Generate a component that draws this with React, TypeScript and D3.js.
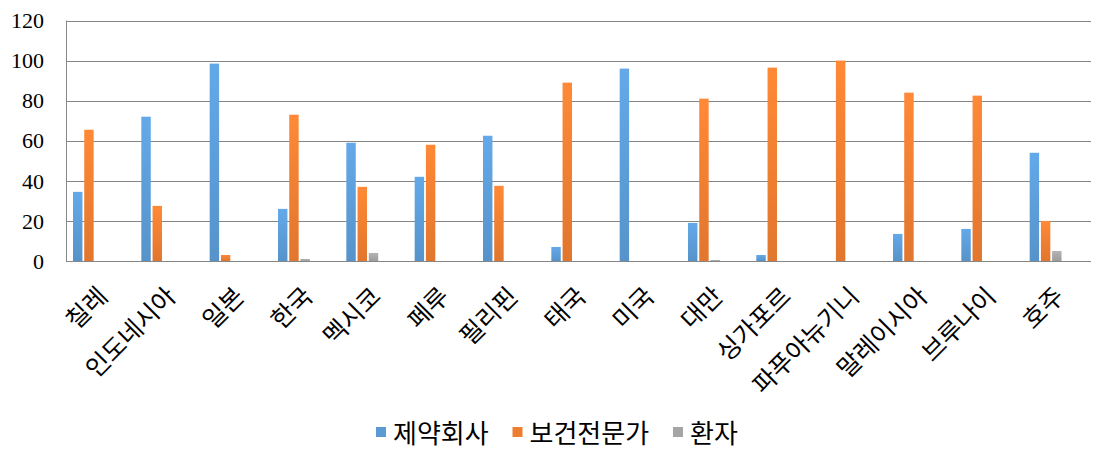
import React from "react";
import * as d3 from "d3";

const categories = ["칠레", "인도네시아", "일본", "한국", "멕시코", "페루", "필리핀", "태국", "미국", "대만", "싱가포르", "파푸아뉴기니", "말레이시아", "브루나이", "호주"];
const seriesNames = ["제약회사", "보건전문가", "환자"];
const pharma = [34.5, 72, 98.5, 26, 59, 42, 62.5, 7, 96, 19, 3, 0, 13.5, 16, 54];
const health = [65.5, 27.5, 3, 73, 37, 58, 37.5, 89, 0, 81, 96.5, 100, 84, 82.5, 20];
const patient = [0, 0, 0, 1, 4, 0, 0, 0, 0, 0.5, 0, 0, 0, 0, 5];
const yTicks = [0, 20, 40, 60, 80, 100, 120];
const colors = ["#5B9BD5", "#ED7D31", "#A5A5A5"];

const W = 1105, H = 458;
const left = 66, right = 1091, top = 20.5, bottom = 261;

export default function App() {
  const x0 = d3.scaleBand<string>().domain(categories).range([left, right]).padding(0);
  const slots = [...seriesNames, "_a", "_b"];
  const bw = x0.bandwidth();
  const x1 = d3.scaleBand<string>().domain(slots).range([7, bw - 7]).paddingInner(0.16).paddingOuter(0);
  const y = d3.scaleLinear().domain([0, 120]).range([bottom, top]);
  const values = [pharma, health, patient];

  const legendItems = [
    { x: 376, name: seriesNames[0] },
    { x: 512.5, name: seriesNames[1] },
    { x: 673, name: seriesNames[2] },
  ];

  return (
    <div style={{ position: "absolute", left: 0, top: 0 }}>
      <svg width={W} height={H} style={{ display: "block", background: "#fff" }}>
        <defs>
          {colors.map((c, i) => (
            <linearGradient key={i} id={`g${i}`} x1="0" y1="0" x2="0" y2="1">
              <stop offset="0" stopColor={d3.color(c)!.brighter(0.25).formatHex()} />
              <stop offset="1" stopColor={d3.color(c)!.darker(0.15).formatHex()} />
            </linearGradient>
          ))}
        </defs>
        {yTicks.map((t) => (
          <g key={t}>
            <line x1={left} x2={right} y1={Math.round(y(t)) + 0.5} y2={Math.round(y(t)) + 0.5} stroke="#868686" strokeWidth={1} />
            <text x={44} y={y(t)} dy="0.35em" textAnchor="end" fontFamily="'Liberation Serif', 'Times New Roman', serif" fontSize={22} fill="#000">
              {t}
            </text>
          </g>
        ))}
        <line x1={left + 0.5} x2={left + 0.5} y1={y(120)} y2={y(0)} stroke="#868686" strokeWidth={1} />
        {categories.map((c, ci) => (
          <g key={c}>
            {values.map((vals, si) => {
              const v = vals[ci];
              if (v <= 0) return null;
              const bx = x0(c)! + x1(seriesNames[si])!;
              return (
                <rect key={si} x={bx} y={y(v)} width={x1.bandwidth()} height={y(0) - y(v)} fill={`url(#g${si})`} />
              );
            })}
          </g>
        ))}
        {categories.map((c) => {
          const cx = x0(c)! + bw / 2 + 9;
          const cy = 298;
          return (
            <text key={c} x={cx} y={cy} transform={`rotate(-45, ${cx}, ${cy})`} textAnchor="end" fontFamily="'Noto Sans CJK KR', sans-serif" fontSize={25} fill="#000">
              {c}
            </text>
          );
        })}
        {legendItems.map((it, i) => (
          <g key={it.name}>
            <rect x={it.x} y={427} width={10} height={10} fill={colors[i]} />
            <text x={it.x + 17} y={434} dy="0.35em" fontFamily="'Noto Sans CJK KR', sans-serif" fontSize={26} fill="#000">
              {it.name}
            </text>
          </g>
        ))}
      </svg>
    </div>
  );
}
